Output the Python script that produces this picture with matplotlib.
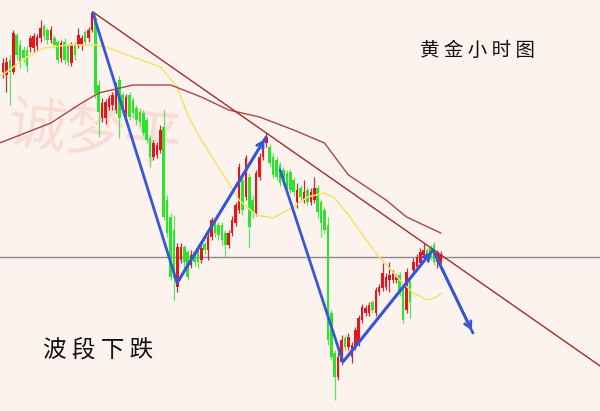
import matplotlib
matplotlib.use("Agg")
import matplotlib.pyplot as plt
import numpy as np

plt.rcParams['font.family'] = ['Noto Sans CJK SC', 'DejaVu Sans']

# ---- hourly gold candles (price units, arbitrary offset) ----
opens = [339,336,351,339,376,366,361,361,364,363,365,373,385,381,371,373,369,353,369,365,
         348,366,366,366,379,373,381,393,326,293,293,304,306,301,331,316,298,316,311,303,
         299,298,291,273,254,256,261,284,211,194,181,124,151,164,159,146,159,161,151,167,
         161,174,189,186,186,178,166,178,188,201,231,214,234,211,198,234,254,268,264,254,
         251,246,241,238,239,231,209,223,211,221,209,211,223,209,201,186,98,58,34,49,
         73,64,54,64,68,91,98,98,109,98,119,123,124,131,131,131,136,121,101,129,
         141,144,148,156,161,163,166,149,149]
highs = [353,354,356,381,378,371,365,365,376,378,377,391,387,383,385,376,371,371,373,368,
         369,369,383,376,381,384,400,397,331,313,312,316,319,329,335,319,317,319,314,306,
         303,301,294,276,271,269,286,301,216,198,196,168,168,166,161,161,161,163,166,169,
         179,194,193,189,189,181,181,195,209,248,235,256,238,215,241,258,269,278,267,258,
         254,249,244,241,242,234,228,226,231,224,223,234,226,212,204,194,101,61,59,76,
         76,78,69,84,96,107,106,109,111,124,127,148,138,149,141,137,139,124,143,131,
         153,157,163,168,163,166,169,161,160]
lows = [333,319,306,337,351,343,349,339,359,359,361,369,371,367,368,363,348,349,347,345,
        345,351,363,361,366,369,379,313,274,289,287,301,301,298,273,296,295,291,293,286,
        285,275,268,244,251,253,258,191,174,131,111,119,148,143,131,143,145,143,148,157,
        151,171,174,171,166,154,163,175,185,198,196,211,164,193,195,231,251,264,245,233,
        231,225,226,221,218,215,203,211,208,206,206,208,193,174,178,66,51,11,31,46,
        61,61,48,61,65,88,95,95,98,95,116,120,121,119,128,128,115,88,98,93,
        138,141,145,153,153,151,146,143,147]
closes = [348,349,339,378,356,349,353,345,373,375,374,383,375,371,381,366,351,368,351,349,
          366,356,376,373,369,381,398,318,299,308,309,313,316,326,293,301,314,294,298,291,
          289,278,271,254,268,266,281,194,178,134,133,164,164,149,134,156,149,149,163,161,
          174,191,178,176,171,166,178,191,206,244,201,253,184,199,238,254,266,274,248,236,
          234,228,229,224,221,219,221,214,219,209,219,223,199,188,181,71,54,34,54,71,
          64,74,66,81,93,104,103,106,101,121,124,138,134,136,138,134,118,91,139,109,
          149,154,159,161,156,154,149,158,156]

# moving averages (sampled at candle positions)
ma_fast_idx = [-1, 7, 12, 19, 27, 30, 38, 46, 51, 54, 58, 63, 69, 74, 79, 85, 89, 94, 97, 101, 109, 116, 120, 124, 127, 128]
ma_fast_val = [334, 354, 363, 366, 366, 364, 354, 344, 324, 296, 271, 244, 211, 196, 193, 204, 214, 218, 213, 196, 158, 131, 118, 111, 114, 118]
ma_slow_idx = [-1, 14, 23, 28, 38, 49, 58, 66, 75, 85, 94, 101, 112, 118, 128]
ma_slow_val = [268, 288, 308, 318, 326, 326, 314, 301, 294, 281, 268, 236, 211, 194, 178]

# resistance trend line and horizontal level
trend_idx = [26.3, 174.6]
trend_val = [399, 45]
level = 154

# wave-count arrows (index, price)
wave1_idx = [26.3, 50.9, 76.9]
wave1_val = [398, 128, 274]
wave2_idx = [81.0, 99.4, 125.7]
wave2_val = [241, 49, 161]
wave3_idx = [125.7, 137.4]
wave3_val = [161, 78]

title_text = "黄 金 小 时 图"
label_text = "波 段 下 跌"
watermark_text = "诚梦平"

# ---- figure ----
bg = '#fdf3ee'
fig = plt.figure(figsize=(6.0, 4.11), dpi=100, facecolor=bg)
ax = fig.add_axes([0, 0, 1, 1], facecolor=bg)
ax.set_xlim(-0.877, 174.56)
ax.set_ylim(0, 411)
ax.axis('off')

def px_x(px):
    return px / 600 * 175.437 - 0.877

# watermark
ax.text(px_x(95), 411 - 135, watermark_text, fontsize=42, color='#f7ddd4',
        ha='center', va='center', rotation=-6, zorder=0)

x = np.arange(len(opens))
o = np.array(opens); c = np.array(closes); h = np.array(highs); l = np.array(lows)
up = c >= o
red = '#e3161e'
green = '#2be52b'
ax.vlines(x[up], l[up], h[up], color='#c0303a', lw=0.9, zorder=2)
ax.vlines(x[~up], l[~up], h[~up], color='#5fe05f', lw=0.9, zorder=2)
body_bot = np.minimum(o, c)
body_h = np.maximum(np.abs(c - o), 1.0)
ax.bar(x[up], body_h[up], bottom=body_bot[up], width=0.75, color=red, zorder=3, lw=0)
ax.bar(x[~up], body_h[~up], bottom=body_bot[~up], width=0.75, color=green, zorder=3, lw=0)

ax.plot(ma_fast_idx, ma_fast_val, color='#f5e36a', lw=1.1, zorder=4)
ax.plot(ma_slow_idx, ma_slow_val, color='#a8464a', lw=1.0, zorder=4)
ax.plot(trend_idx, trend_val, color='#a52a2a', lw=1.0, zorder=4)
ax.axhline(level, color='#8a8a8a', lw=1.0, zorder=1)

blue = '#3557d8'
for xi, yi in [(wave1_idx, wave1_val), (wave2_idx, wave2_val), (wave3_idx, wave3_val)]:
    ax.plot(xi, yi, color=blue, lw=2.0, zorder=5, solid_capstyle='round')
    ax.annotate('', xy=(xi[-1], yi[-1]), xytext=(xi[-2], yi[-2]),
                arrowprops=dict(arrowstyle='->,head_length=0.45,head_width=0.25',
                                color=blue, lw=2.0), zorder=6)

ax.text(px_x(477.5), 411 - 50, title_text, fontsize=14,
        ha='center', va='center', color='#111111')
ax.text(px_x(98), 411 - 350, label_text, fontsize=17,
        ha='center', va='center', color='#111111')

fig.savefig('out.png', dpi=100, facecolor=bg)
